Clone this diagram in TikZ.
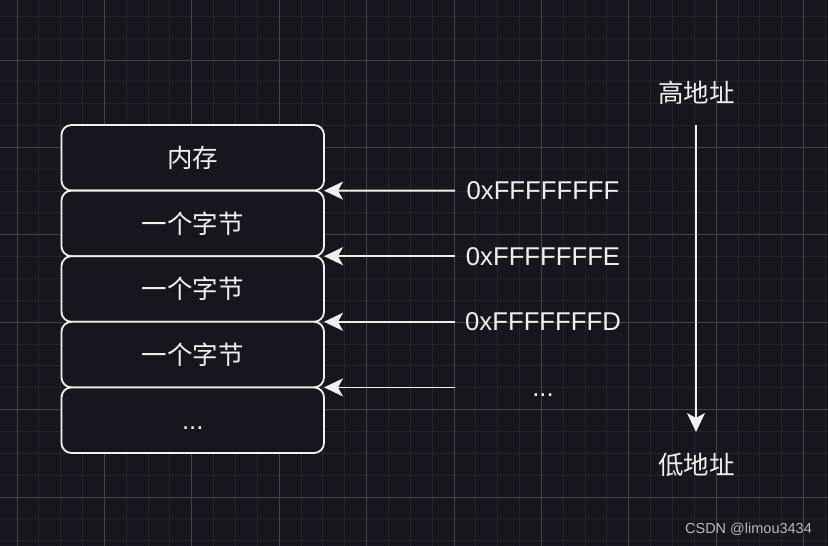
\documentclass[tikz,border=0pt]{standalone}
\usepackage{fontspec}
\setmainfont{Liberation Sans}
\newfontfamily\cjk{Noto Sans CJK SC}
\usetikzlibrary{arrows.meta}
\definecolor{bg}{RGB}{24,21,30}
\definecolor{gridminor}{RGB}{38,35,43}
\definecolor{gridmajor}{RGB}{68,66,73}
\definecolor{fg}{RGB}{240,240,240}
\definecolor{wmc}{RGB}{185,185,185}
\begin{document}
\begin{tikzpicture}[x=1pt,y=-1pt,
  membox/.style={draw=fg, fill=bg, line width=1.8pt, rounded corners=10pt,
    minimum width=262.5pt, minimum height=65.6pt, inner sep=0pt, outer sep=0pt,
    text=fg, font=\cjk\fontsize{25.5}{26}\selectfont},
  addr/.style={text=fg, font=\fontsize{25.7}{27}\selectfont, inner sep=0pt,
    outer sep=0pt, minimum width=176pt},
  cjklabel/.style={text=fg, font=\cjk\fontsize{25.5}{26}\selectfont, inner sep=0pt},
  ptr/.style={draw=fg, line width=1.8pt, -{Stealth[length=19pt,width=18pt,inset=5pt]}},
  wmark/.style={text=wmc, font=\fontsize{14.5}{15}\selectfont, inner sep=0pt}
]
\useasboundingbox (0,0) rectangle (828,546);
\fill[bg] (0,0) rectangle (828,546);
% grid
\foreach \i in {0,...,38} {
  \draw[gridminor, line width=1pt] ({-4.85+21.85*\i},0) -- ({-4.85+21.85*\i},546);
}
\foreach \j in {0,...,25} {
  \draw[gridminor, line width=1pt] (0,{16.3+21.85*\j}) -- (828,{16.3+21.85*\j});
}
\foreach \i in {0,...,9} {
  \draw[gridmajor, line width=1pt] ({17+87.4*\i},0) -- ({17+87.4*\i},546);
}
\foreach \j in {0,...,5} {
  \draw[gridmajor, line width=1pt] (0,{60+87.4*\j}) -- (828,{60+87.4*\j});
}
% memory boxes
\node[membox] (m0) at (192.75,157.8) {内存};
\node[membox] (m1) at (192.75,223.4) {一个字节};
\node[membox] (m2) at (192.75,289.0) {一个字节};
\node[membox] (m3) at (192.75,354.6) {一个字节};
\node[membox, font=\fontsize{25.7}{27}\selectfont] (m4) at (192.75,420.2) {\vphantom{0}...};
% addresses
\node[addr] (a0) at (543,190.6) {0xFFFFFFFF};
\node[addr] (a1) at (543,256.2) {0xFFFFFFFE};
\node[addr] (a2) at (543,321.8) {0xFFFFFFFD};
\node[addr] (a3) at (543,387.4) {\vphantom{0}...};
\draw[ptr] (a0.west) -- (m1.north east);
\draw[ptr] (a1.west) -- (m2.north east);
\draw[ptr] (a2.west) -- (m3.north east);
\draw[ptr] (a3.west) -- (m4.north east);
% direction
\node[cjklabel] (hi) at (696.5,92.5) {高地址};
\node[cjklabel] (lo) at (696.5,464.5) {低地址};
\coordinate (vtop) at (696,125);
\coordinate (vbot) at (696,432);
\draw[ptr] (vtop) -- (vbot);
% watermark
\node[wmark] (wm) at (748.5,529.5) {CSDN @limou3434};
\end{tikzpicture}
\end{document}
